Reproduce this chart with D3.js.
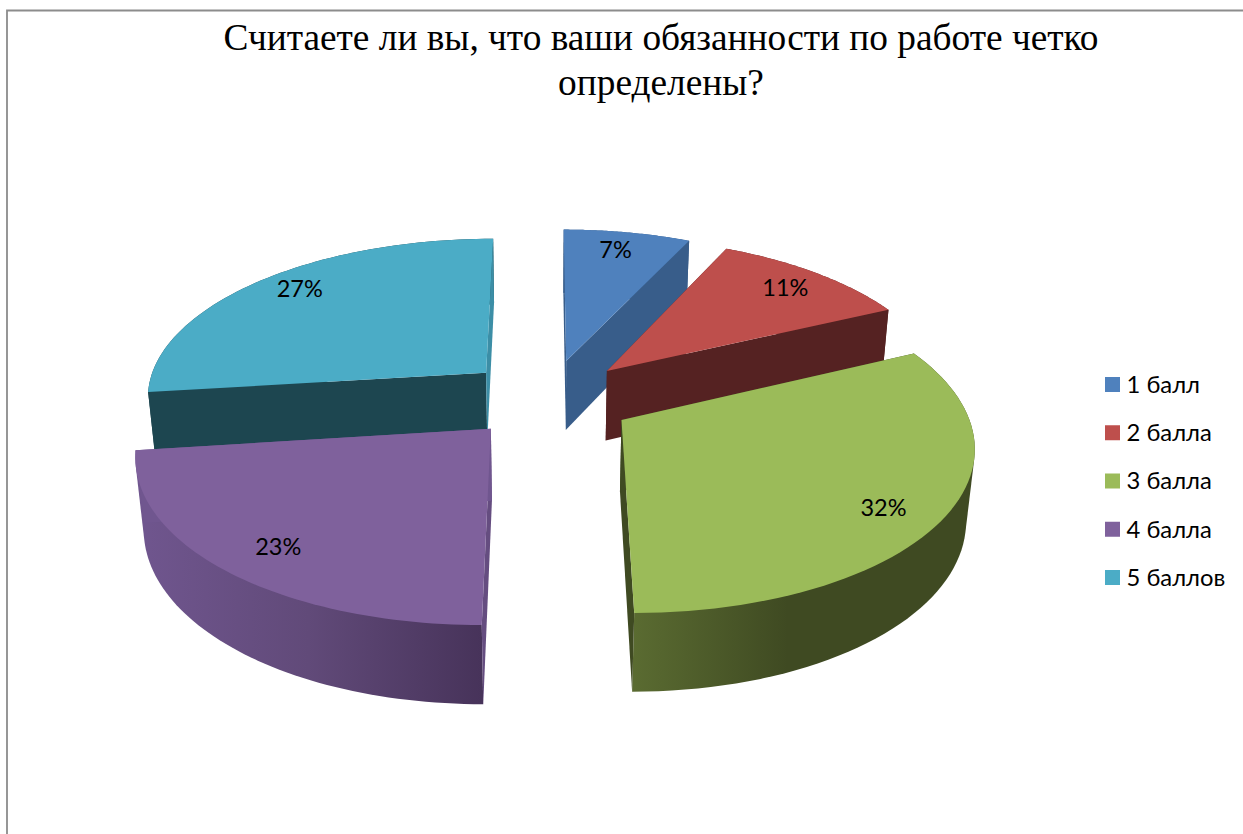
<!DOCTYPE html>
<html lang="ru">
<head>
<meta charset="utf-8">
<title>Обязанности по работе</title>
<script src="https://cdn.jsdelivr.net/npm/d3@7/dist/d3.min.js"></script>
<style>
  html, body { margin: 0; padding: 0; background: #fff; overflow: hidden; }
  svg { display: block; }
</style>
</head>
<body>
<script>
// Chart content
const titleLines = ["Считаете ли вы, что ваши обязанности по работе четко", "определены?"];
const categories = ["1 балл", "2 балла", "3 балла", "4 балла", "5 баллов"];
const shares = [7, 11, 32, 23, 27];

// Face colours per slice
const topColors = ["#4f81bd", "#be4f4c", "#9bbb59", "#7f619c", "#4bacc6"];
const startEdgeColors = ["#385d8a", "#552222", "#3f4b22", "#654d80", "#1d4650"];
const endEdgeColors = ["#385d8a", "#552222", "#3f4a22", "#70568f", "#3c8ea6"];
const wallRamps = [
  ["#385d8a", "#385d8a"],
  ["#552222", "#552222"],
  ["#5a6b31", "#3f4a22", "#3f4a22"],
  ["#70568f", "#614a79", "#47335a"],
  ["#1d4650", "#1d4650"]
];

// 3D pie model: world units are pixels at the plane where depth is zero
const width = 1243, height = 834;
const radius = 342, explode = 85, rimSteps = 60;
const view = {
  originX: 545, horizonY: -740, planeScale: 1140,
  offsetX: 3.4, perspective: 0.00041, baseW: 1.0015,
  thicknessW: 0.02, thicknessScale: 95
};
// Small screen offsets that settle each percentage label on its slice
const labelNudges = [[-3, -1], [0, 0], [-7, 8], [7, 2], [5, -5]];

// Perspective projection of a point on the top (z=0) or bottom (z=1) face
function project(x, y, z) {
  const w = view.baseW - view.perspective * y + view.thicknessW * z;
  return [
    view.originX + x / w,
    view.horizonY + (view.planeScale + view.thicknessScale * z) / w
  ];
}

const pie = d3.pie().sort(null).value(d => d);
const arcs = pie(shares);
const colour = d3.scaleOrdinal().domain(categories).range(topColors);
const path = d3.line();

function apexOf(arc) {
  const mid = (arc.startAngle + arc.endAngle) / 2;
  return [view.offsetX + explode * Math.sin(mid), -explode * Math.cos(mid)];
}
function rimPoint(arc, angle, r) {
  const [ax, ay] = apexOf(arc);
  return [ax + r * Math.sin(angle), ay - r * Math.cos(angle)];
}
function rimSamples(arc) {
  return d3.range(rimSteps + 1).map(i =>
    rimPoint(arc, arc.startAngle + (arc.endAngle - arc.startAngle) * i / rimSteps, radius));
}

const svg = d3.select("body").append("svg")
  .attr("width", width).attr("height", height)
  .attr("viewBox", [0, 0, width, height]);

// Horizontal shading along the curved walls
const defs = svg.append("defs");
arcs.forEach((arc, i) => {
  const xs = rimSamples(arc).map(p => project(p[0], p[1], 0)[0]);
  const g = defs.append("linearGradient")
    .attr("id", "wall" + i).attr("gradientUnits", "userSpaceOnUse")
    .attr("x1", d3.min(xs)).attr("x2", d3.max(xs)).attr("y1", 0).attr("y2", 0);
  const ramp = wallRamps[i];
  // Green darkens quickly from its cut edge, the others shade evenly
  const offsets = i === 2 ? [0, 0.45, 1] : ramp.map((_, k) => k / (ramp.length - 1));
  ramp.forEach((c, k) => g.append("stop").attr("offset", offsets[k]).attr("stop-color", c));
});

// Frame: only the top and left rules are on the sheet
svg.append("path")
  .attr("d", path([[7, height], [7, 10.5], [width, 10.5]]))
  .attr("fill", "none").attr("stroke", "#8c8c8c").attr("stroke-width", 1.8);

// Title
svg.append("g").selectAll("text").data(titleLines).join("text")
  .attr("x", 661).attr("y", (d, i) => 50 + i * 45)
  .attr("text-anchor", "middle")
  .attr("font-family", "'Liberation Serif', serif")
  .attr("font-size", 37.35).attr("fill", "#000")
  .text(d => d);

// Slices, painted from the back of the pie to the front
const paintOrder = [0, 4, 1, 3, 2];
const slices = svg.append("g");
paintOrder.forEach(i => {
  const arc = arcs[i];
  const apex = apexOf(arc);
  const rim = rimSamples(arc);
  const g = slices.append("g").attr("class", "slice");
  const topRim = rim.map(p => project(p[0], p[1], 0));
  const botRim = rim.map(p => project(p[0], p[1], 1));
  const apexTop = project(apex[0], apex[1], 0);
  const apexBot = project(apex[0], apex[1], 1);

  // Curved outer wall: the hull keeps the straight silhouette between both rims
  g.append("path")
    .attr("d", path(d3.polygonHull(topRim.concat(botRim))) + "Z")
    .attr("fill", `url(#wall${i})`);
  // Flat cut faces on either side of the slice
  g.append("path")
    .attr("d", path([apexTop, topRim[0], botRim[0], apexBot]) + "Z")
    .attr("fill", startEdgeColors[i]);
  g.append("path")
    .attr("d", path([apexTop, topRim[rimSteps], botRim[rimSteps], apexBot]) + "Z")
    .attr("fill", endEdgeColors[i]);
  // Top face
  g.append("path")
    .attr("d", path([apexTop].concat(topRim)) + "Z")
    .attr("fill", colour(categories[i]));
});

// Percentage labels sit along each slice's bisector
const labelFont = "Lato, 'Noto Sans', sans-serif";
svg.append("g").selectAll("text").data(arcs).join("text")
  .attr("transform", (d, i) => {
    const mid = (d.startAngle + d.endAngle) / 2;
    const p = rimPoint(d, mid, radius * 0.84);
    const s = project(p[0], p[1], 0);
    return `translate(${s[0] + labelNudges[i][0]},${s[1] + labelNudges[i][1]})`;
  })
  .attr("text-anchor", "middle").attr("dy", "0.35em")
  .attr("font-family", labelFont).attr("font-size", 23.5).attr("fill", "#000")
  .text(d => d.value + "%");

// Legend
const legendY = d3.scalePoint().domain(categories).range([384.5, 577.5]);
const legend = svg.append("g").selectAll("g").data(categories).join("g")
  .attr("transform", d => `translate(1105,${legendY(d)})`);
legend.append("rect")
  .attr("x", 0).attr("y", -7.5).attr("width", 15).attr("height", 15)
  .attr("fill", d => colour(d));
legend.append("text")
  .attr("x", 21.5).attr("dy", "0.35em")
  .attr("font-family", labelFont).attr("font-size", 23.8).attr("fill", "#000")
  .text(d => d);
</script>
</body>
</html>
